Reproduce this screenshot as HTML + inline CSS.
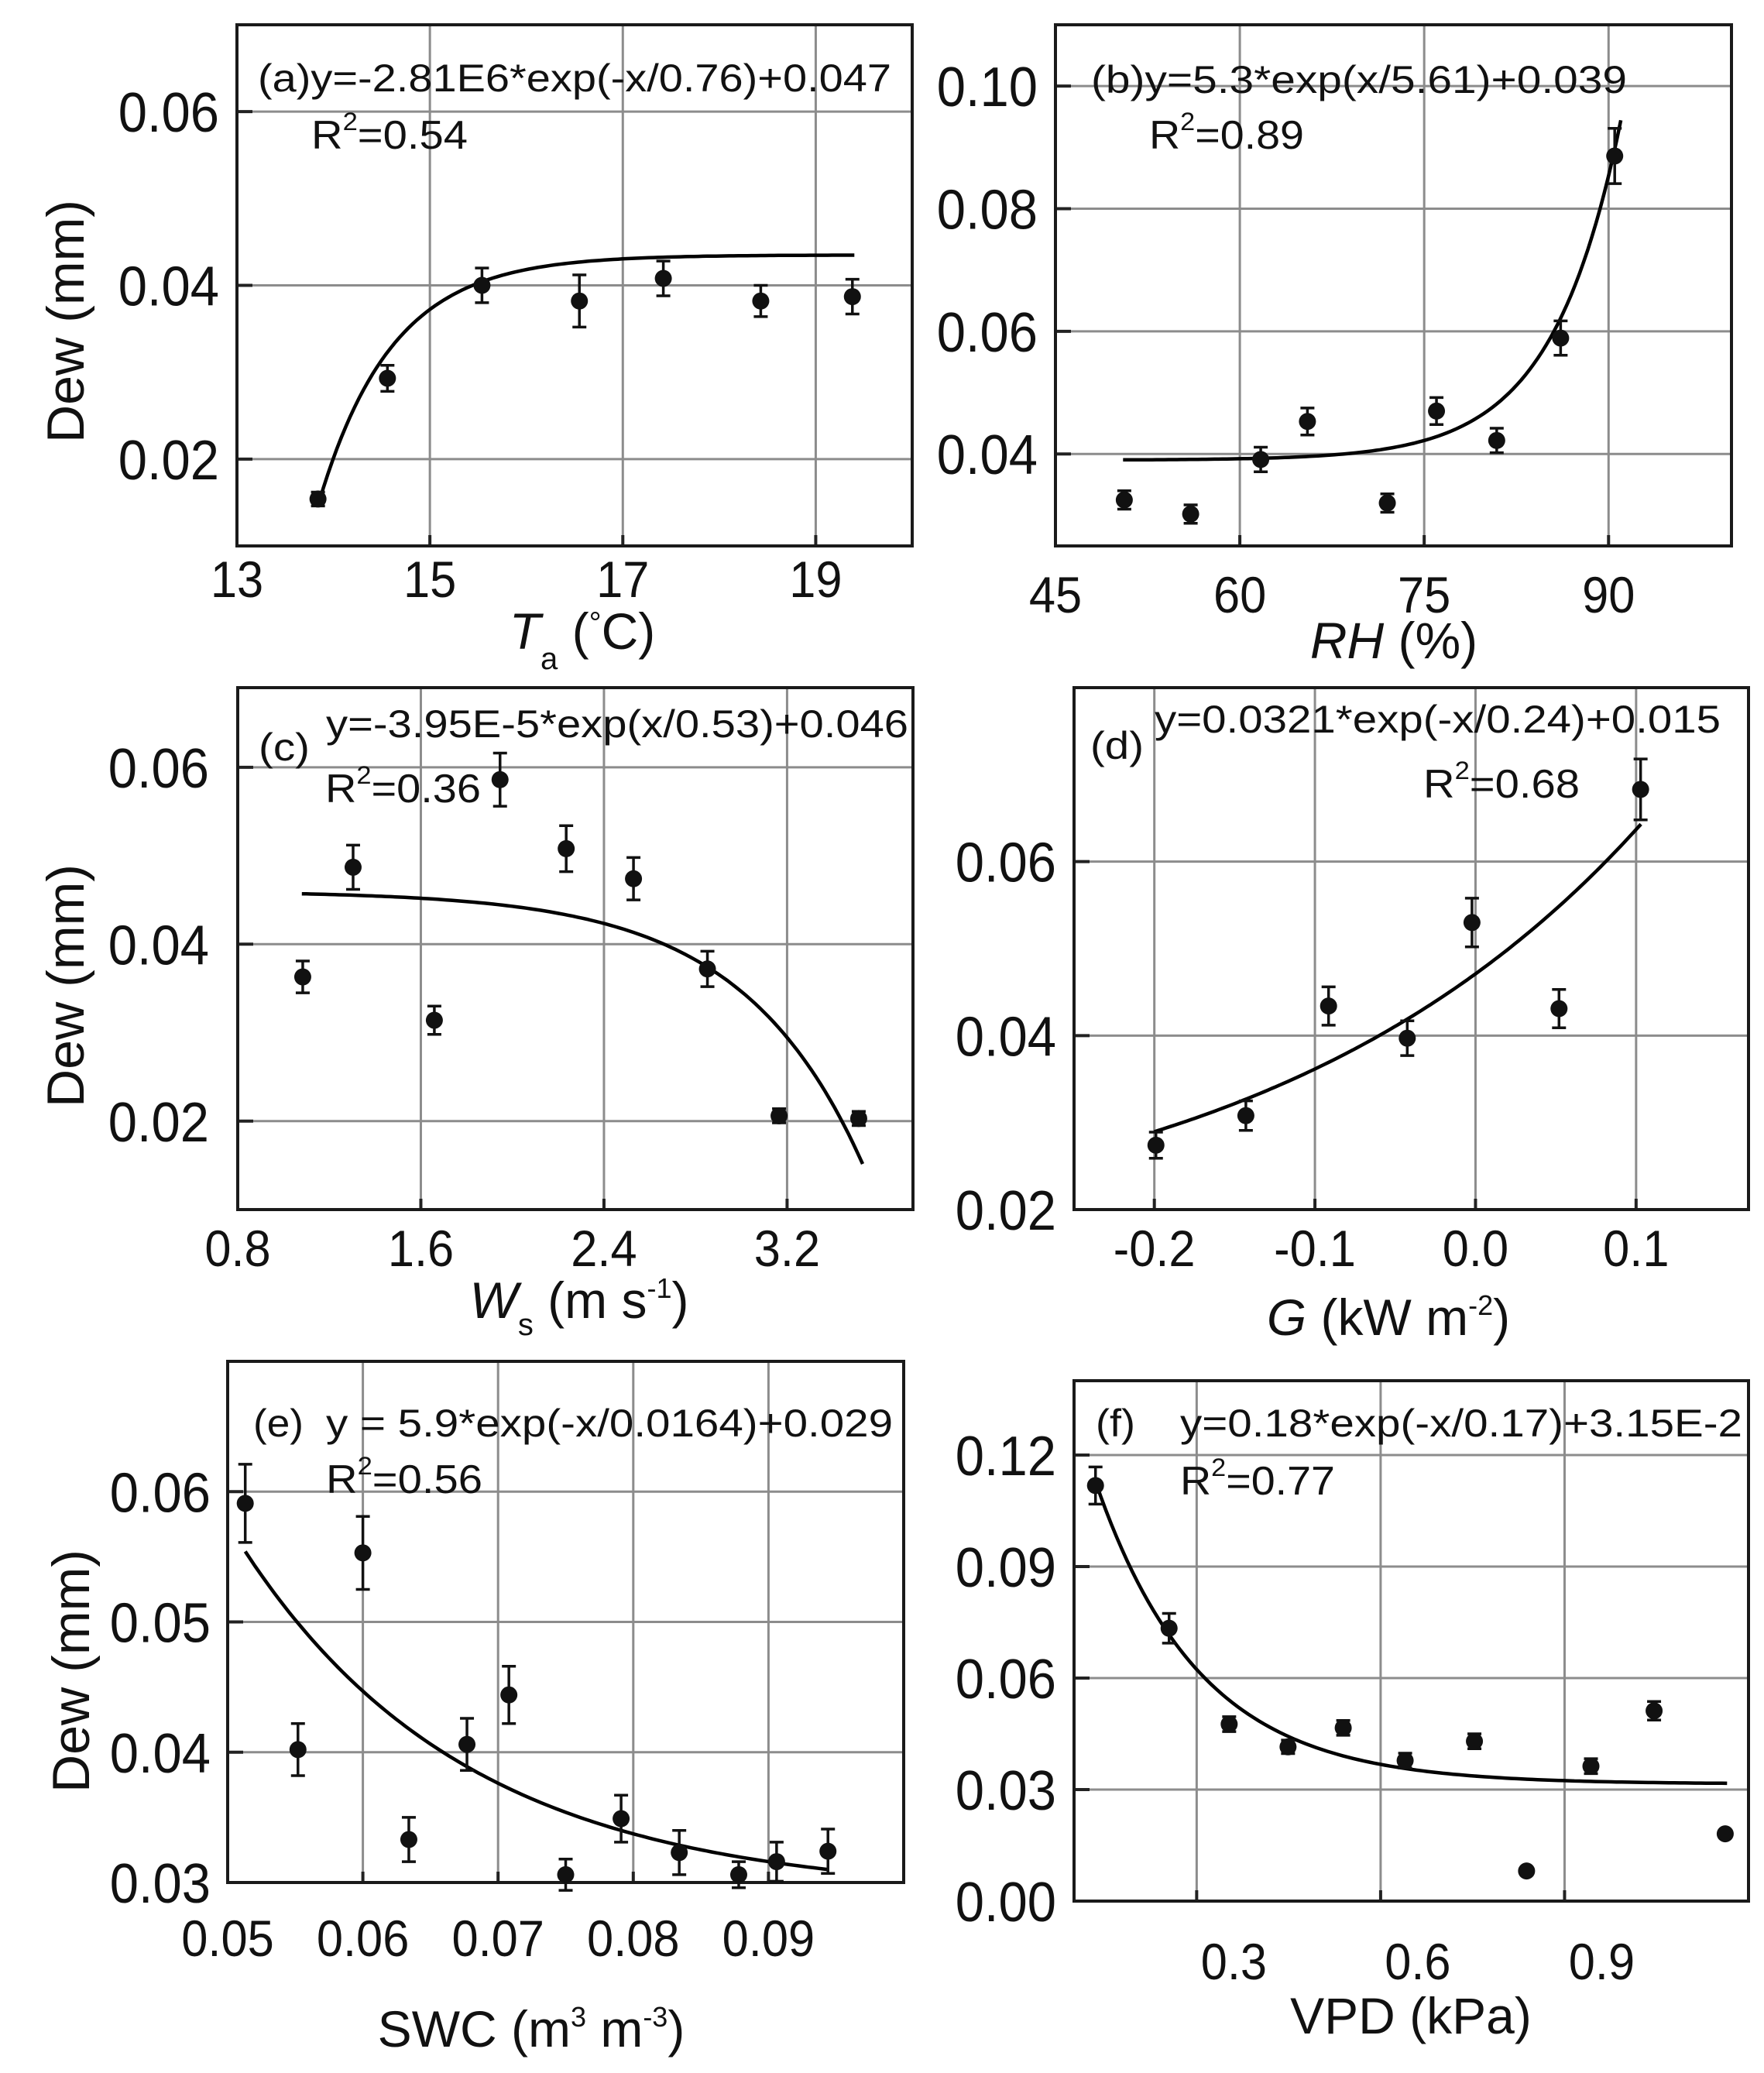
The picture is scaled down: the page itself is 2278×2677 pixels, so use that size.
<!DOCTYPE html>
<html><head><meta charset="utf-8"><style>
html,body{margin:0;padding:0;background:#fff;}
svg{display:block;font-family:"Liberation Sans",Arial,sans-serif;}
</style></head><body>
<svg id="fig" xmlns="http://www.w3.org/2000/svg" width="2278" height="2677" viewBox="0 0 2278 2677">
<rect x="0" y="0" width="2278" height="2677" fill="#fff"/>
</svg>
<script>
// ---------- DATA ----------
const aX=[13.84,14.56,15.54,16.55,17.42,18.43,19.38];
const aY=[0.0154,0.0293,0.0400,0.0382,0.0408,0.0382,0.0387];
const aE=[0.0008,0.0015,0.0020,0.0030,0.0020,0.0018,0.0020];
const aXTicks=[13,15,17,19];
const aXLabels=['13','15','17','19'];
const aYTicks=[0.02,0.04,0.06];
const aYLabels=['0.02','0.04','0.06'];
const aFit=[-2.34e6,-0.76,0.0435];
const aFitRange=[13.85,19.4];

const bX=[50.6,56.0,61.7,65.5,72.0,76.0,80.9,86.1,90.5];
const bY=[0.0325,0.0302,0.0391,0.0453,0.0320,0.0470,0.0422,0.0589,0.0886];
const bE=[0.0015,0.0015,0.0020,0.0022,0.0015,0.0022,0.0020,0.0028,0.0045];
const bXTicks=[45,60,75,90];
const bXLabels=['45','60','75','90'];
const bYTicks=[0.04,0.06,0.08,0.10];
const bYLabels=['0.04','0.06','0.08','0.10'];
const bFit=[5.0e-9,5.61,0.039];
const bFitRange=[50.5,91.0];

const cX=[1.084,1.304,1.659,1.946,2.235,2.529,2.852,3.165,3.513];
const cY=[0.0363,0.0487,0.0314,0.0586,0.0508,0.0474,0.0372,0.0206,0.0203];
const cE=[0.0018,0.0025,0.0016,0.0030,0.0026,0.0024,0.0020,0.0008,0.0008];
const cXTicks=[0.8,1.6,2.4,3.2];
const cXLabels=['0.8','1.6','2.4','3.2'];
const cYTicks=[0.02,0.04,0.06];
const cYLabels=['0.02','0.04','0.06'];
const cFit=[-3.95e-5,0.53,0.046];
const cFitRange=[1.08,3.53];

const dX=[-0.199,-0.143,-0.0915,-0.0425,-0.0022,0.052,0.1028];
const dY=[0.0274,0.0308,0.0434,0.0397,0.0530,0.0431,0.0683];
const dE=[0.0015,0.0017,0.0022,0.0020,0.0028,0.0022,0.0035];
const dXTicks=[-0.2,-0.1,0.0,0.1];
const dXLabels=['-0.2','-0.1','0.0','0.1'];
const dYTicks=[0.02,0.04,0.06];
const dYLabels=['0.02','0.04','0.06'];
const dFit=[0.0321,0.24,0.015];
const dFitRange=[-0.2,0.103];

const eX=[0.0513,0.0552,0.0600,0.0634,0.0677,0.0708,0.0750,0.0791,0.0834,0.0878,0.0906,0.0944];
const eY=[0.0591,0.0402,0.0553,0.0333,0.0406,0.0444,0.0306,0.0349,0.0323,0.0306,0.0316,0.0324];
const eE=[0.0030,0.0020,0.0028,0.0017,0.0020,0.0022,0.0012,0.0018,0.0017,0.0010,0.0015,0.0017];
const eXTicks=[0.05,0.06,0.07,0.08,0.09];
const eXLabels=['0.05','0.06','0.07','0.08','0.09'];
const eYTicks=[0.03,0.04,0.05,0.06];
const eYLabels=['0.03','0.04','0.05','0.06'];
const eFit=[0.57,-0.0167,0.029];
const eFitRange=[0.0513,0.0944];

const fX=[0.135,0.255,0.353,0.449,0.539,0.640,0.753,0.838,0.943,1.046,1.162];
const fY=[0.1118,0.0734,0.0476,0.0415,0.0466,0.0378,0.0430,0.0081,0.0363,0.0512,0.0181];
const fE=[0.0050,0.0040,0.0020,0.0018,0.0020,0.0020,0.0020,0,0.0020,0.0025,0];
const fXTicks=[0.3,0.6,0.9];
const fXLabels=['0.3','0.6','0.9'];
const fYTicks=[0.00,0.03,0.06,0.09,0.12];
const fYLabels=['0.00','0.03','0.06','0.09','0.12'];
const fFit=[0.18,-0.17,0.0315];
const fFitRange=[0.135,1.165];

// ---------- LAYOUT ----------
const NS='http://www.w3.org/2000/svg';
const svg=document.getElementById('fig');
function mk(tag,attrs,parent){const e=document.createElementNS(NS,tag);for(const k in attrs)e.setAttribute(k,attrs[k]);(parent||svg).appendChild(e);return e;}

function txt(parent,x,y,str,size,anchor,stretch){
  const t=mk('text',{x:x,y:y,'font-size':size,'text-anchor':anchor||'start',fill:'#111'},parent);
  t.textContent=str;
  if(stretch){const L=t.getComputedTextLength();t.setAttribute('textLength',(L*stretch).toFixed(1));t.setAttribute('lengthAdjust','spacingAndGlyphs');}
  return t;
}

const panels=[
 {id:'a',L:306,R:1178,T:32,B:705,x0:13,x1:20,y0:0.01,y1:0.07,X:aX,Y:aY,E:aE,xt:aXTicks,xl:aXLabels,yt:aYTicks,yl:aYLabels,fit:aFit,fr:aFitRange,ylabR:283,xlabB:771,xoff:0},
 {id:'b',L:1363,R:2236,T:32,B:705,x0:45,x1:100,y0:0.025,y1:0.11,X:bX,Y:bY,E:bE,xt:bXTicks,xl:bXLabels,yt:bYTicks,yl:bYLabels,fit:bFit,fr:bFitRange,ylabR:1340,xlabB:791,xoff:0},
 {id:'c',L:307,R:1179,T:888,B:1562,x0:0.8,x1:3.75,y0:0.01,y1:0.069,X:cX,Y:cY,E:cE,xt:cXTicks,xl:cXLabels,yt:cYTicks,yl:cYLabels,fit:cFit,fr:cFitRange,ylabR:270,xlabB:1635,xoff:0},
 {id:'d',L:1387,R:2258,T:888,B:1562,x0:-0.25,x1:0.17,y0:0.02,y1:0.08,X:dX,Y:dY,E:dE,xt:dXTicks,xl:dXLabels,yt:dYTicks,yl:dYLabels,fit:dFit,fr:dFitRange,ylabR:1364,xlabB:1635,xoff:0},
 {id:'e',L:294,R:1167,T:1758,B:2431,x0:0.05,x1:0.1,y0:0.03,y1:0.07,X:eX,Y:eY,E:eE,xt:eXTicks,xl:eXLabels,yt:eYTicks,yl:eYLabels,fit:eFit,fr:eFitRange,ylabR:272,xlabB:2526,xoff:0},
 {id:'f',L:1387,R:2258,T:1783,B:2455,x0:0.1,x1:1.2,y0:0,y1:0.14,X:fX,Y:fY,E:fE,xt:fXTicks,xl:fXLabels,yt:fYTicks,yl:fYLabels,fit:fFit,fr:fFitRange,ylabR:1364,xlabB:2556,xoff:48}
];

panels.forEach(p=>{
  const g=mk('g',{});
  
  
  const sx=v=>p.L+(v-p.x0)/(p.x1-p.x0)*(p.R-p.L);
  const sy=v=>p.B-(v-p.y0)/(p.y1-p.y0)*(p.B-p.T);
  p.xt.forEach((v,i)=>{
    const x=sx(v);
    if(x>p.L+2&&x<p.R-2){const l=mk('line',{x1:x,x2:x,y1:p.T,y2:p.B,stroke:'#8c8c8c','stroke-width':3},g);
      }
    const tk=mk('line',{x1:x,x2:x,y1:p.B,y2:p.B-14,stroke:'#222','stroke-width':4},g);
    
    const t=txt(g,x+p.xoff,p.xlabB,p.xl[i],66,'middle',0.93);
    
  });
  p.yt.forEach((v,i)=>{
    const y=sy(v);
    if(y>p.T+2&&y<p.B-2){const l=mk('line',{x1:p.L,x2:p.R,y1:y,y2:y,stroke:'#8c8c8c','stroke-width':3},g);
      }
    const tk=mk('line',{x1:p.L,x2:p.L+20,y1:y,y2:y,stroke:'#222','stroke-width':4},g);
    
    const t=txt(g,p.ylabR,y+26,p.yl[i],72,'end',0.93);
    
  });
  const fr=mk('rect',{x:p.L,y:p.T,width:p.R-p.L,height:p.B-p.T,fill:'none',stroke:'#1a1a1a','stroke-width':4},g);
  
  let d='';const n=120;
  for(let k=0;k<=n;k++){const xv=p.fr[0]+(p.fr[1]-p.fr[0])*k/n;const yv=p.fit[2]+p.fit[0]*Math.exp(xv/p.fit[1]);d+=(k?'L':'M')+sx(xv).toFixed(1)+','+sy(yv).toFixed(1);}
  const cv=mk('path',{d:d,fill:'none',stroke:'#000','stroke-width':4.5},g);
  
  p.X.forEach((xv,i)=>{
    const x=sx(xv),y=sy(p.Y[i]);
    if(p.E[i]>0){
      const yt=sy(p.Y[i]+p.E[i]),yb=sy(p.Y[i]-p.E[i]);
      const eb=mk('path',{d:`M${x},${yt}L${x},${yb}M${x-9},${yt}L${x+9},${yt}M${x-9},${yb}L${x+9},${yb}`,stroke:'#111','stroke-width':3.5,fill:'none'},g);
      
    }
    const c=mk('circle',{cx:x,cy:y,r:11,fill:'#111'},g);
    
  });
});

// ---------- ANNOTATIONS ----------
function fitText(x,y,str,w,size,name){
  const t=mk('text',{x:x,y:y,'font-size':size,fill:'#111',textLength:w,lengthAdjust:'spacingAndGlyphs'});
  t.textContent=str;
  
  return t;
}
function r2(x,y,val,w,name){
  const t=mk('text',{x:x,y:y,'font-size':52,fill:'#111',textLength:w,lengthAdjust:'spacingAndGlyphs'});
  
  const a=mk('tspan',{},t);a.textContent='R';
  const b=mk('tspan',{dy:-24,'font-size':32},t);b.textContent='2';
  const c=mk('tspan',{dy:24},t);c.textContent='='+val;
}
fitText(333,118,'(a)y=-2.81E6*exp(-x/0.76)+0.047',818,50,'equation-a');
r2(402,192,'0.54',202,'r2-a');
fitText(1409,120,'(b)y=5.3*exp(x/5.61)+0.039',692,50,'equation-b');
r2(1484,192,'0.89',200,'r2-b');
fitText(334,982,'(c)',66,50,'label-c');
fitText(421,952,'y=-3.95E-5*exp(x/0.53)+0.046',752,50,'equation-c');
r2(420,1036,'0.36',201,'r2-c');
fitText(1408,980,'(d)',69,50,'label-d');
fitText(1491,946,'y=0.0321*exp(-x/0.24)+0.015',731,50,'equation-d');
r2(1838,1030,'0.68',202,'r2-d');
fitText(327,1855,'(e)',65,50,'label-e');
fitText(421,1855,'y = 5.9*exp(-x/0.0164)+0.029',732,50,'equation-e');
r2(421,1928,'0.56',202,'r2-e');
fitText(1415,1855,'(f)',51,50,'label-f');
fitText(1524,1855,'y=0.18*exp(-x/0.17)+3.15E-2',726,50,'equation-f');
r2(1524,1930,'0.77',200,'r2-f');

[[84,415,'y-axis-title-a'],[84,1273,'y-axis-title-c'],[91,2158,'y-axis-title-e']].forEach(q=>{
  const t=mk('text',{x:0,y:0,'font-size':68,'text-anchor':'middle',fill:'#111',transform:`translate(${q[0]+24},${q[1]}) rotate(-90)`,textLength:314,lengthAdjust:'spacingAndGlyphs'});
  t.textContent='Dew (mm)';
  
});

function xTitle(cx,by,parts,name){
  const t=mk('text',{x:cx,y:by,'font-size':66,'text-anchor':'middle',fill:'#111'});
  
  parts.forEach(pt=>{const s=mk('tspan',pt[1]||{},t);s.textContent=pt[0];});
}
xTitle(752,838,[['T',{'font-style':'italic'}],['a',{'font-size':40,dy:26}],[' (',{dy:-26}],['°',{'font-size':40,dy:-20}],['C)',{dy:20}]],'x-axis-title-a');
xTitle(1800,850,[['RH',{'font-style':'italic'}],[' (%)',{}]],'x-axis-title-b');
xTitle(748,1702,[['W',{'font-style':'italic'}],['s',{'font-size':40,dy:22}],[' (m s',{dy:-22}],['-1',{'font-size':36,dy:-26}],[')',{dy:26}]],'x-axis-title-c');
xTitle(1793,1724,[['G',{'font-style':'italic'}],[' (kW m',{}],['-2',{'font-size':36,dy:-26}],[')',{dy:26}]],'x-axis-title-d');
xTitle(686,2643,[['SWC (m',{}],['3',{'font-size':36,dy:-26}],[' m',{dy:26}],['-3',{'font-size':36,dy:-26}],[')',{dy:26}]],'x-axis-title-e');
xTitle(1822,2626,[['VPD (kPa)',{}]],'x-axis-title-f');
</script>
</body></html>
